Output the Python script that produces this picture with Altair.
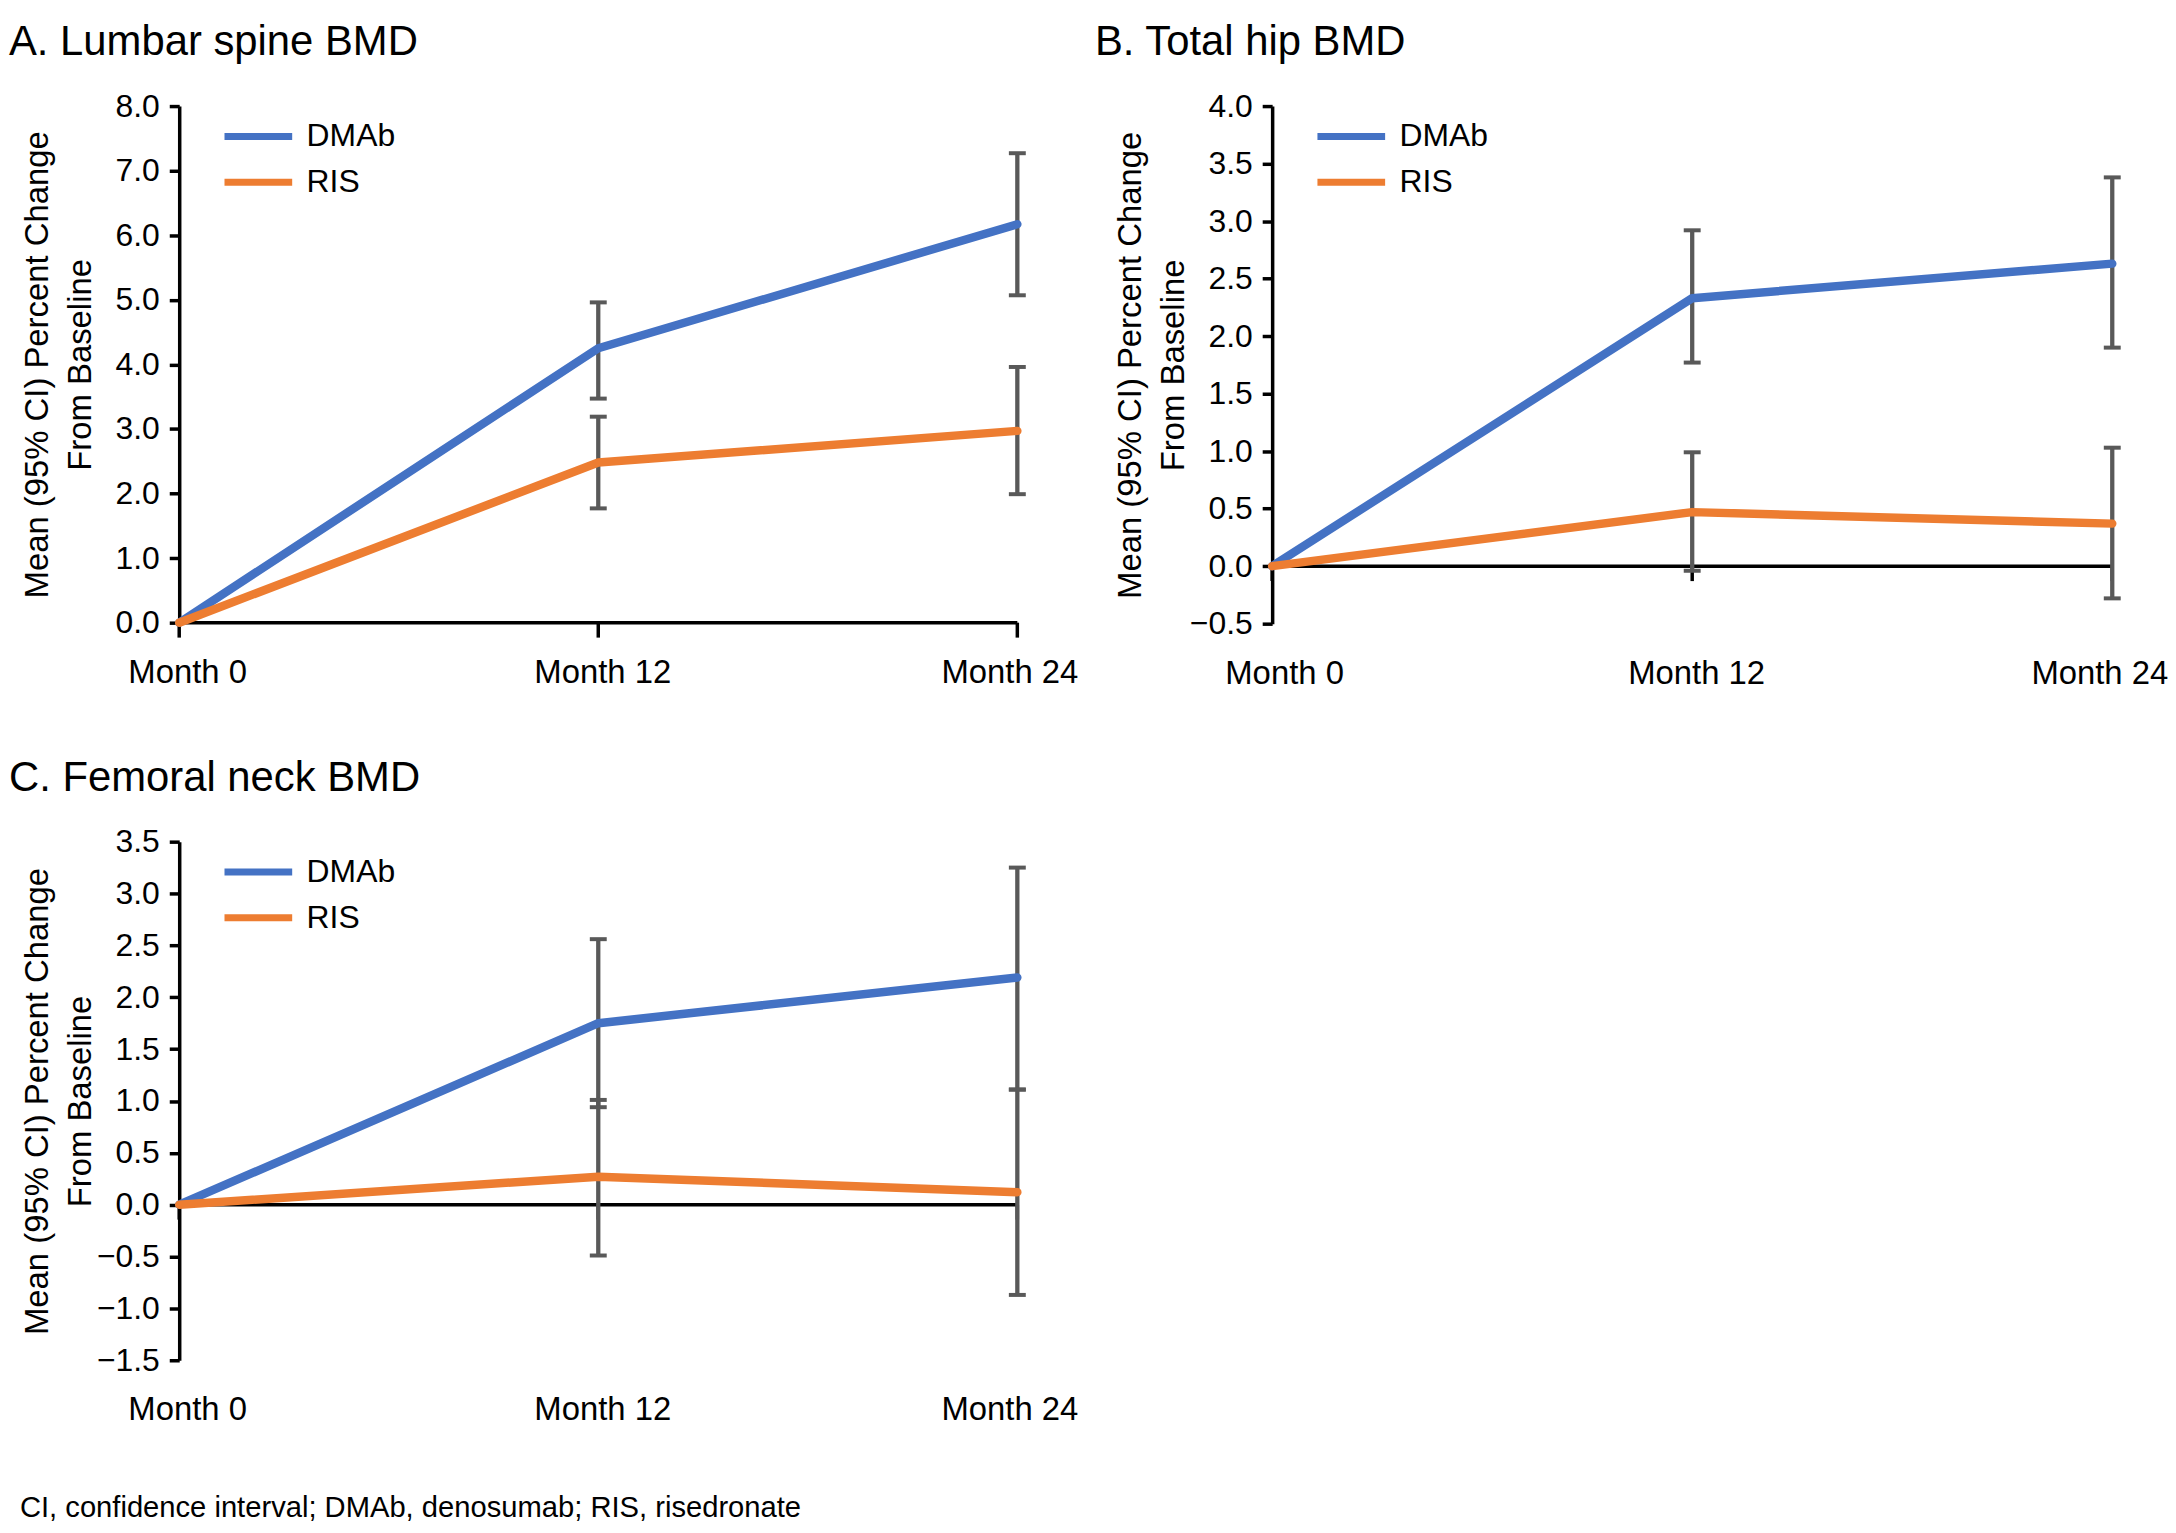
import altair as alt
import pandas as pd

FONT = "Liberation Sans"

months = ["Month 0", "Month 12", "Month 24"]
series = ["DMAb", "RIS"]
colors = ["#4472C4", "#ED7D31"]
err_color = "#595959"

panel_titles = ["A. Lumbar spine BMD", "B. Total hip BMD", "C. Femoral neck BMD"]
y_title = ["Mean (95% CI) Percent Change", "From Baseline"]
footnote = "CI, confidence interval; DMAb, denosumab; RIS, risedronate"

# Panel A: lumbar spine
a_dmab = [0.0, 4.25, 6.17]
a_dmab_lo = [None, 3.47, 5.07]
a_dmab_hi = [None, 4.96, 7.27]
a_ris = [0.0, 2.48, 2.97]
a_ris_lo = [None, 1.77, 1.99]
a_ris_hi = [None, 3.19, 3.96]

# Panel B: total hip
b_dmab = [0.0, 2.33, 2.63]
b_dmab_lo = [None, 1.77, 1.90]
b_dmab_hi = [None, 2.92, 3.38]
b_ris = [0.0, 0.47, 0.37]
b_ris_lo = [None, -0.04, -0.28]
b_ris_hi = [None, 0.99, 1.03]

# Panel C: femoral neck
c_dmab = [0.0, 1.75, 2.19]
c_dmab_lo = [None, 0.94, 1.11]
c_dmab_hi = [None, 2.56, 3.25]
c_ris = [0.0, 0.27, 0.12]
c_ris_lo = [None, -0.49, -0.87]
c_ris_hi = [None, 1.01, 1.11]

a_domain = [0.0, 8.0]
a_ticks = [0.0, 1.0, 2.0, 3.0, 4.0, 5.0, 6.0, 7.0, 8.0]
b_domain = [-0.5, 4.0]
b_ticks = [-0.5, 0.0, 0.5, 1.0, 1.5, 2.0, 2.5, 3.0, 3.5, 4.0]
c_domain = [-1.5, 3.5]
c_ticks = [-1.5, -1.0, -0.5, 0.0, 0.5, 1.0, 1.5, 2.0, 2.5, 3.0, 3.5]


def make_df(dm, dm_lo, dm_hi, rs, rs_lo, rs_hi):
    rows = []
    for s, m, lo, hi in (("DMAb", dm, dm_lo, dm_hi), ("RIS", rs, rs_lo, rs_hi)):
        for i, mo in enumerate(months):
            rows.append({"month": mo, "series": s, "mean": m[i], "lo": lo[i], "hi": hi[i]})
    return pd.DataFrame(rows)


def panel(title, df, domain, ticks, width, height, label_shifts, title_dx):
    xs = alt.Scale(type="point", domain=months, padding=0)
    xaxis = alt.Axis(title=None, domain=False, ticks=False, tickSize=0, labelPadding=34,
                     labelFontSize=33, labelFont=FONT, labelColor="black", labelAngle=0,
                     grid=False,
                     labelOffset={"condition": [
                         {"test": f"datum.value == '{months[0]}'", "value": label_shifts[0]},
                         {"test": f"datum.value == '{months[1]}'", "value": label_shifts[1]},
                     ], "value": label_shifts[2]})
    ys = alt.Scale(domain=domain, nice=False, zero=False)
    yaxis = alt.Axis(title=y_title, values=ticks, format=".1f", grid=False,
                     domainColor="black", domainWidth=3.5, tickColor="black", tickWidth=3.5,
                     tickSize=10, labelPadding=10, labelFontSize=32, labelFont=FONT,
                     labelColor="black", titleFont=FONT, titleFontSize=33,
                     titleFontWeight="normal", titleColor="black", titleLineHeight=43,
                     titleX=-125, titleY=height / 2)

    def X(field="month"):
        return alt.X(f"{field}:N", scale=xs, axis=xaxis, sort=months)

    def Y(field):
        return alt.Y(f"{field}:Q", scale=ys, axis=yaxis)

    err = df.dropna(subset=["lo", "hi"])
    zero_df = pd.DataFrame({"month": months, "zero": [0.0] * len(months)})

    zero_rule = alt.Chart(zero_df.iloc[:1]).mark_rule(color="black", strokeWidth=3.5).encode(
        x=alt.datum(months[0], scale=xs, axis=xaxis),
        x2=alt.datum(months[-1]),
        y=Y("zero"),
    )
    month_ticks = alt.Chart(zero_df).mark_rule(color="black", strokeWidth=3.5, y2Offset=15).encode(
        x=X(), y=Y("zero"), y2=alt.Y2("zero")
    )
    bars = alt.Chart(err).mark_rule(color=err_color, strokeWidth=4.3).encode(
        x=X(), y=Y("lo"), y2=alt.Y2("hi")
    )
    cap_lo = alt.Chart(err).mark_tick(color=err_color, orient="horizontal", size=17,
                                      thickness=4, opacity=1).encode(x=X(), y=Y("lo"))
    cap_hi = alt.Chart(err).mark_tick(color=err_color, orient="horizontal", size=17,
                                      thickness=4, opacity=1).encode(x=X(), y=Y("hi"))
    lines = alt.Chart(df).mark_line(strokeWidth=8.5, strokeCap="round", strokeJoin="round").encode(
        x=X(), y=Y("mean"),
        color=alt.Color("series:N", scale=alt.Scale(domain=series, range=colors),
                        legend=alt.Legend(title=None, orient="none", legendX=59, legendY=10,
                                          symbolType="M-2,0H2", symbolSize=1156,
                                          symbolStrokeWidth=7, labelFontSize=32,
                                          labelFont=FONT, labelColor="black", labelOffset=28,
                                          padding=0, rowPadding=9)),
    )
    return alt.layer(zero_rule, month_ticks, bars, cap_lo, cap_hi, lines).properties(
        width=width, height=height,
        title=alt.TitleParams(title, anchor="start", frame="group", fontSize=42, font=FONT,
                              fontWeight="normal", color="black", dx=title_dx, dy=11,
                              offset=4, baseline="alphabetic"),
    )


pa = panel(panel_titles[0], make_df(a_dmab, a_dmab_lo, a_dmab_hi, a_ris, a_ris_lo, a_ris_hi),
           a_domain, a_ticks, 842, 519, [8, 4, -8], -171)
pb = panel(panel_titles[1], make_df(b_dmab, b_dmab_lo, b_dmab_hi, b_ris, b_ris_lo, b_ris_hi),
           b_domain, b_ticks, 844, 520, [12, 4, -13], -178)
pc = panel(panel_titles[2], make_df(c_dmab, c_dmab_lo, c_dmab_hi, c_ris, c_ris_lo, c_ris_hi),
           c_domain, c_ticks, 842, 521, [8, 4, -8], -171)

top = alt.hconcat(pa, pb, spacing=17).resolve_scale(color="independent")
chart = alt.vconcat(top, pc, spacing=67).resolve_scale(color="independent").properties(
    title=alt.TitleParams(footnote, orient="bottom", anchor="start", frame="group",
                          fontSize=29.3, font=FONT, fontWeight="normal", color="black",
                          offset=90, dx=-160, baseline="alphabetic"),
    padding={"left": 1, "top": 10, "right": 0, "bottom": 5},
).configure_view(stroke=None)

chart.save("out.html", embed_options={"renderer": "svg", "actions": False})
